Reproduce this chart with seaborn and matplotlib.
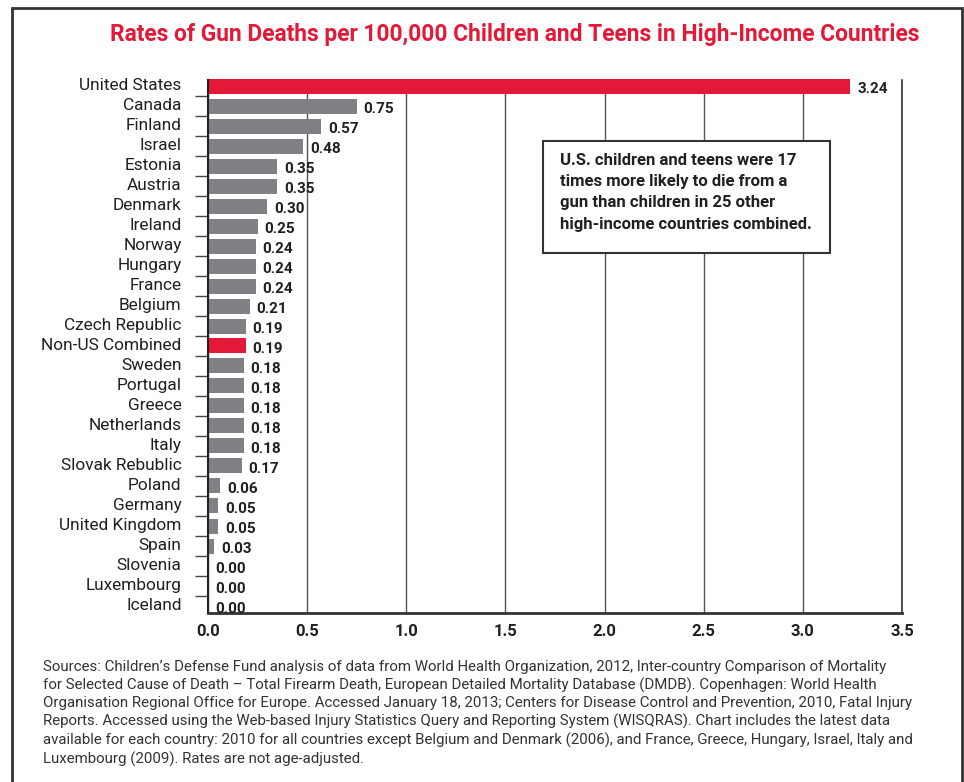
import matplotlib
matplotlib.use("Agg")
import matplotlib.pyplot as plt
from matplotlib.patches import Rectangle
from matplotlib.ticker import FixedLocator, NullFormatter
from matplotlib.transforms import ScaledTranslation
import seaborn as sns
import pandas as pd

countries = ["United States", "Canada", "Finland", "Israel", "Estonia", "Austria",
             "Denmark", "Ireland", "Norway", "Hungary", "France", "Belgium",
             "Czech Republic", "Non-US Combined", "Sweden", "Portugal", "Greece",
             "Netherlands", "Italy", "Slovak Rebublic", "Poland", "Germany",
             "United Kingdom", "Spain", "Slovenia", "Luxembourg", "Iceland"]
rates = [3.24, 0.75, 0.57, 0.48, 0.35, 0.35, 0.30, 0.25, 0.24, 0.24, 0.24, 0.21,
         0.19, 0.19, 0.18, 0.18, 0.18, 0.18, 0.18, 0.17, 0.06, 0.05, 0.05, 0.03,
         0.00, 0.00, 0.00]
highlight = ["United States", "Non-US Combined"]
x_ticks = [0.0, 0.5, 1.0, 1.5, 2.0, 2.5, 3.0, 3.5]

title = "Rates of Gun Deaths per 100,000 Children and Teens in High-Income Countries"
note = ("U.S. children and teens were 17\n"
        "times more likely to die from a\n"
        "gun than children in 25 other\n"
        "high-income countries combined.")
sources = ("Sources: Children\u2019s Defense Fund analysis of data from World Health Organization, 2012, Inter-country Comparison of Mortality\n"
           "for Selected Cause of Death \u2013 Total Firearm Death, European Detailed Mortality Database (DMDB). Copenhagen: World Health\n"
           "Organisation Regional Office for Europe. Accessed January 18, 2013; Centers for Disease Control and Prevention, 2010, Fatal Injury\n"
           "Reports. Accessed using the Web-based Injury Statistics Query and Reporting System (WISQRAS). Chart includes the latest data\n"
           "available for each country: 2010 for all countries except Belgium and Denmark (2006), and France, Greece, Hungary, Israel, Italy and\n"
           "Luxembourg (2009). Rates are not age-adjusted.")

RED = "#E31937"
GREY = "#808184"
DARK = "#231F20"

sns.set_theme(style="white")
plt.rcParams["font.family"] = ["Roboto", "DejaVu Sans"]

df = pd.DataFrame({"country": countries, "rate": rates})
palette = {c: (RED if c in highlight else GREY) for c in countries}

fig = plt.figure(figsize=(9.64, 7.82), dpi=100)
ax = fig.add_axes([208 / 964, 1 - 613 / 782, 694 / 964, 533 / 782])

sns.barplot(data=df, x="rate", y="country", hue="country", palette=palette,
            order=countries, hue_order=countries, legend=False, width=0.75,
            saturation=1, ax=ax, zorder=2)
for p in ax.patches:
    p.set_clip_on(False)
    p.set_linewidth(0)

ax.set_xlim(0, 3.5)
ax.set_ylim(26.35, -0.3)
ax.set_xlabel("")
ax.set_ylabel("")

ax.set_xticks(x_ticks)
ax.set_xticklabels([f"{t:.1f}" for t in x_ticks], fontsize=12, fontweight="bold", color=DARK)
ax.tick_params(axis="x", length=0, pad=8)
ax.tick_params(axis="y", which="major", length=0, pad=19, labelsize=12.4, labelcolor=DARK)
for lab in ax.get_yticklabels():
    lab.set_transform(lab.get_transform() + ScaledTranslation(0, 2 / 100, fig.dpi_scale_trans))
ax.yaxis.set_minor_locator(FixedLocator([i + 0.5 for i in range(len(countries) - 1)]))
ax.yaxis.set_minor_formatter(NullFormatter())
ax.tick_params(axis="y", which="minor", left=True, length=9.5, width=1, color="#444444", direction="out")

ax.grid(axis="x", color="#555555", linewidth=1)
ax.grid(axis="y", visible=False)
ax.set_axisbelow(True)
ax.spines["top"].set_visible(False)
ax.spines["left"].set_color("#222222")
ax.spines["left"].set_linewidth(1.5)
ax.spines["bottom"].set_color("#333333")
ax.spines["bottom"].set_linewidth(2)
ax.spines["right"].set_color("#333333")
ax.spines["right"].set_linewidth(1.2)

for i, v in enumerate(rates):
    ax.annotate(f"{v:.2f}", xy=(v, i), xytext=(5, -2), textcoords="offset points",
                ha="left", va="center", fontsize=11, fontweight="bold", color=DARK,
                annotation_clip=False)

fig.text(515 / 964, 1 - 34 / 782, title, ha="center", va="center", fontsize=16.4,
         fontweight="bold", color=RED)

fig.add_artist(Rectangle((543 / 964, 1 - 253 / 782), 287 / 964, 112 / 782,
                         transform=fig.transFigure, facecolor="white",
                         edgecolor="#333333", linewidth=1.5, zorder=3))
fig.text(560 / 964, 1 - 153 / 782, note, ha="left", va="top", fontsize=12,
         fontweight="bold", color=DARK, linespacing=1.52, zorder=4)

fig.text(43 / 964, 1 - 660 / 782, sources, ha="left", va="top", fontsize=10.8,
         color="#333333", linespacing=1.3)

fig.add_artist(Rectangle((12 / 964, -0.05), 950 / 964, 1.05 - 8 / 782,
                         transform=fig.transFigure, facecolor="none",
                         edgecolor="#333333", linewidth=2, zorder=5))

fig.savefig("out.png", dpi=100)
